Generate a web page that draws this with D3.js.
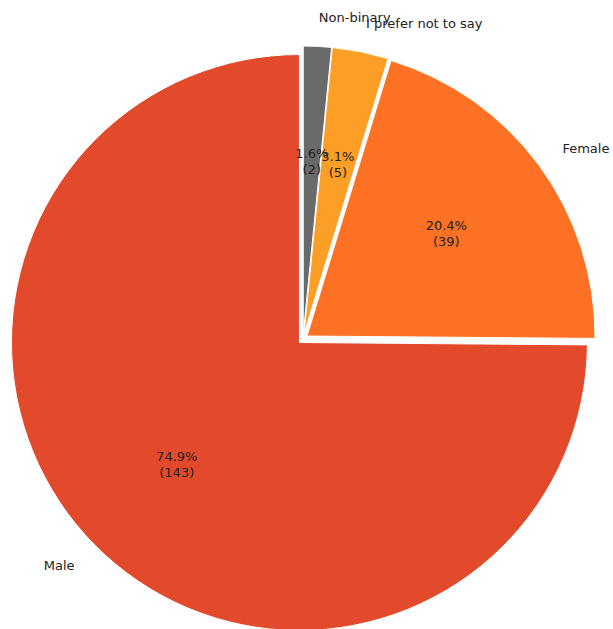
<!DOCTYPE html>
<html>
<head>
<meta charset="utf-8">
<script src="https://cdn.jsdelivr.net/npm/d3@7/dist/d3.min.js"></script>
<style>
  html, body { margin: 0; padding: 0; background: #ffffff; }
  svg { display: block; }
  text { font-family: "DejaVu Sans", sans-serif; font-size: 13px; fill: #222; }
</style>
</head>
<body>
<svg id="chart" width="613" height="629"></svg>
<script>
// Data (order: counterclockwise from 12 o'clock, as in the source)
const categories = ["Male", "Female", "I prefer not to say", "Non-binary"];
const values = [143, 39, 6, 3];
const countLabels = ["143", "39", "5", "2"];
const colors = ["#e34a2c", "#fc7124", "#fd9e27", "#6a6a6a"];

const W = 613, H = 629;
const cx = 303, cy = 339, R = 288;
const explode = 5;          // px offset of each wedge
const labelDist = 1.1, pctDist = 0.6;

const svg = d3.select("#chart");
const total = d3.sum(values);

const pie = d3.pie().sort(null).value(d => d.v)
  .startAngle(0).endAngle(-2 * Math.PI);
const arcs = pie(categories.map((c, i) => ({ c, v: values[i], n: countLabels[i], col: colors[i] })));

const arc = d3.arc().innerRadius(0).outerRadius(R);

function midA(d) { return (d.startAngle + d.endAngle) / 2; }
function off(d, dist) {
  const a = midA(d);
  return [Math.sin(a) * dist, -Math.cos(a) * dist];
}

const g = svg.append("g").attr("transform", `translate(${cx},${cy})`);

const slices = g.selectAll("g.slice").data(arcs).join("g")
  .attr("class", "slice")
  .attr("transform", d => { const o = off(d, explode); return `translate(${o[0]},${o[1]})`; });

slices.append("path")
  .attr("d", arc)
  .attr("fill", d => d.data.col)
  .attr("stroke", "#ffffff")
  .attr("stroke-width", 1);

// Category labels
slices.append("text")
  .attr("x", d => off(d, R * labelDist)[0])
  .attr("y", d => off(d, R * labelDist)[1])
  .attr("text-anchor", d => off(d, 1)[0] < 0 ? "end" : "start")
  .attr("dominant-baseline", "central")
  .text(d => d.data.c);

// Percent labels
const pct = slices.append("text")
  .attr("text-anchor", "middle")
  .attr("transform", d => { const o = off(d, R * pctDist); return `translate(${o[0]},${o[1]})`; });
pct.append("tspan").attr("x", 0).attr("y", -3.5)
  .text(d => (d.data.v / total * 100).toFixed(1) + "%");
pct.append("tspan").attr("x", 0).attr("y", 12.5)
  .text(d => "(" + d.data.n + ")");
</script>
</body>
</html>
